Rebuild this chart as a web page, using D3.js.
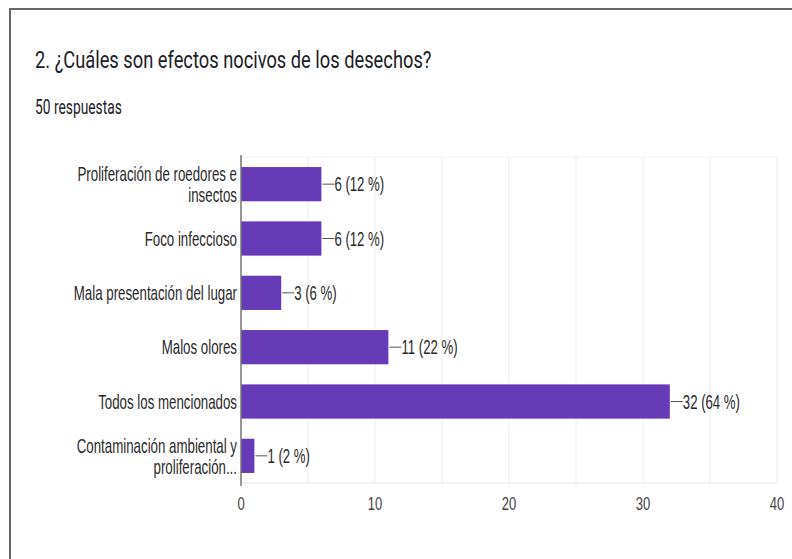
<!DOCTYPE html>
<html>
<head>
<meta charset="utf-8">
<script src="https://cdn.jsdelivr.net/npm/d3@7"></script>
<style>
  html, body { margin: 0; padding: 0; background: #fff; }
  svg { display: block; }
</style>
</head>
<body>
<div id="chart"></div>
<script>
const title = "2. ¿Cuáles son efectos nocivos de los desechos?";
const subtitle = "50 respuestas";
const categories = [
  ["Proliferación de roedores e", "insectos"],
  ["Foco infeccioso"],
  ["Mala presentación del lugar"],
  ["Malos olores"],
  ["Todos los mencionados"],
  ["Contaminación ambiental y", "proliferación..."]
];
const values = [6, 6, 3, 11, 32, 1];
const total = 50;
const xTicks = [0, 10, 20, 30, 40];
const gridTicks = [0, 5, 10, 15, 20, 25, 30, 35, 40];

const W = 792, H = 559;
const SY = 1.48; // vertical text stretch seen in the reference
const svg = d3.select("#chart").append("svg").attr("width", W).attr("height", H);
svg.append("rect").attr("width", W).attr("height", H).attr("fill", "#fff");

// frame
svg.append("line").attr("x1", 9).attr("x2", W).attr("y1", 9).attr("y2", 9)
  .attr("stroke", "#666").attr("stroke-width", 2);
svg.append("line").attr("x1", 10).attr("x2", 10).attr("y1", 8).attr("y2", H)
  .attr("stroke", "#666").attr("stroke-width", 2);

function stretchedText(g, x, y, txt, sy) {
  return g.append("text").attr("transform", `translate(${x},${y}) scale(1,${sy || SY})`).text(txt);
}

stretchedText(svg, 35, 68, title, 1.26)
  .attr("font-family", "Roboto").attr("font-size", 18.3).attr("fill", "#202124");
stretchedText(svg, 35, 114, subtitle, 1.42)
  .attr("font-family", "Roboto").attr("font-size", 13.8).attr("fill", "#202124");

const x = d3.scaleLinear().domain([0, 40]).range([241, 777]);
const idx = d3.range(categories.length);
const y = d3.scaleBand().domain(idx).range([157, 483]).paddingInner(0.37).paddingOuter(0.185);

const grid = svg.append("g");
grid.selectAll("line.v").data(gridTicks).join("line")
  .attr("x1", d => x(d)).attr("x2", d => x(d))
  .attr("y1", 157).attr("y2", 483)
  .attr("stroke", "#ececec").attr("stroke-width", 1);
grid.append("line").attr("x1", x(0)).attr("x2", x(40)).attr("y1", 483).attr("y2", 483)
  .attr("stroke", "#e6e6e6");
grid.append("line").attr("x1", x(0)).attr("x2", x(40)).attr("y1", 157).attr("y2", 157)
  .attr("stroke", "#f2f2f2");

// bars
svg.selectAll("rect.bar").data(idx).join("rect")
  .attr("class", "bar")
  .attr("x", x(0)).attr("y", i => y(i))
  .attr("width", i => x(values[i]) - x(0))
  .attr("height", y.bandwidth())
  .attr("fill", "#673ab7");

// axis line
svg.append("line").attr("x1", x(0)).attr("x2", x(0)).attr("y1", 155).attr("y2", 486)
  .attr("stroke", "#777").attr("stroke-width", 1.5);

// category labels
const labG = svg.append("g").attr("font-family", "Liberation Sans, Arial, sans-serif")
  .attr("font-size", 13.3).attr("fill", "#2a2a2a").attr("text-anchor", "end");
idx.forEach(i => {
  const c = y(i) + y.bandwidth() / 2;
  const lines = categories[i];
  if (lines.length === 1) {
    stretchedText(labG, x(0) - 4, c + 7, lines[0]);
  } else {
    stretchedText(labG, x(0) - 4, c - 3, lines[0]);
    stretchedText(labG, x(0) - 4, c + 18, lines[1]);
  }
});

// value labels with leader lines
const valG = svg.append("g").attr("font-family", "Liberation Sans, Arial, sans-serif")
  .attr("font-size", 13.2).attr("fill", "#2a2a2a");
idx.forEach(i => {
  const c = y(i) + y.bandwidth() / 2;
  const xe = x(values[i]);
  valG.append("line").attr("x1", xe + 1).attr("x2", xe + 13).attr("y1", c).attr("y2", c)
    .attr("stroke", "#555").attr("stroke-width", 1);
  stretchedText(valG, xe + 13, c + 7, `${values[i]} (${Math.round(values[i] / total * 100)} %)`);
});

// x tick labels
const tickG = svg.append("g").attr("font-family", "Liberation Sans, Arial, sans-serif")
  .attr("font-size", 13).attr("fill", "#444").attr("text-anchor", "middle");
xTicks.forEach(t => stretchedText(tickG, x(t), 510, String(t)));
</script>
</body>
</html>
